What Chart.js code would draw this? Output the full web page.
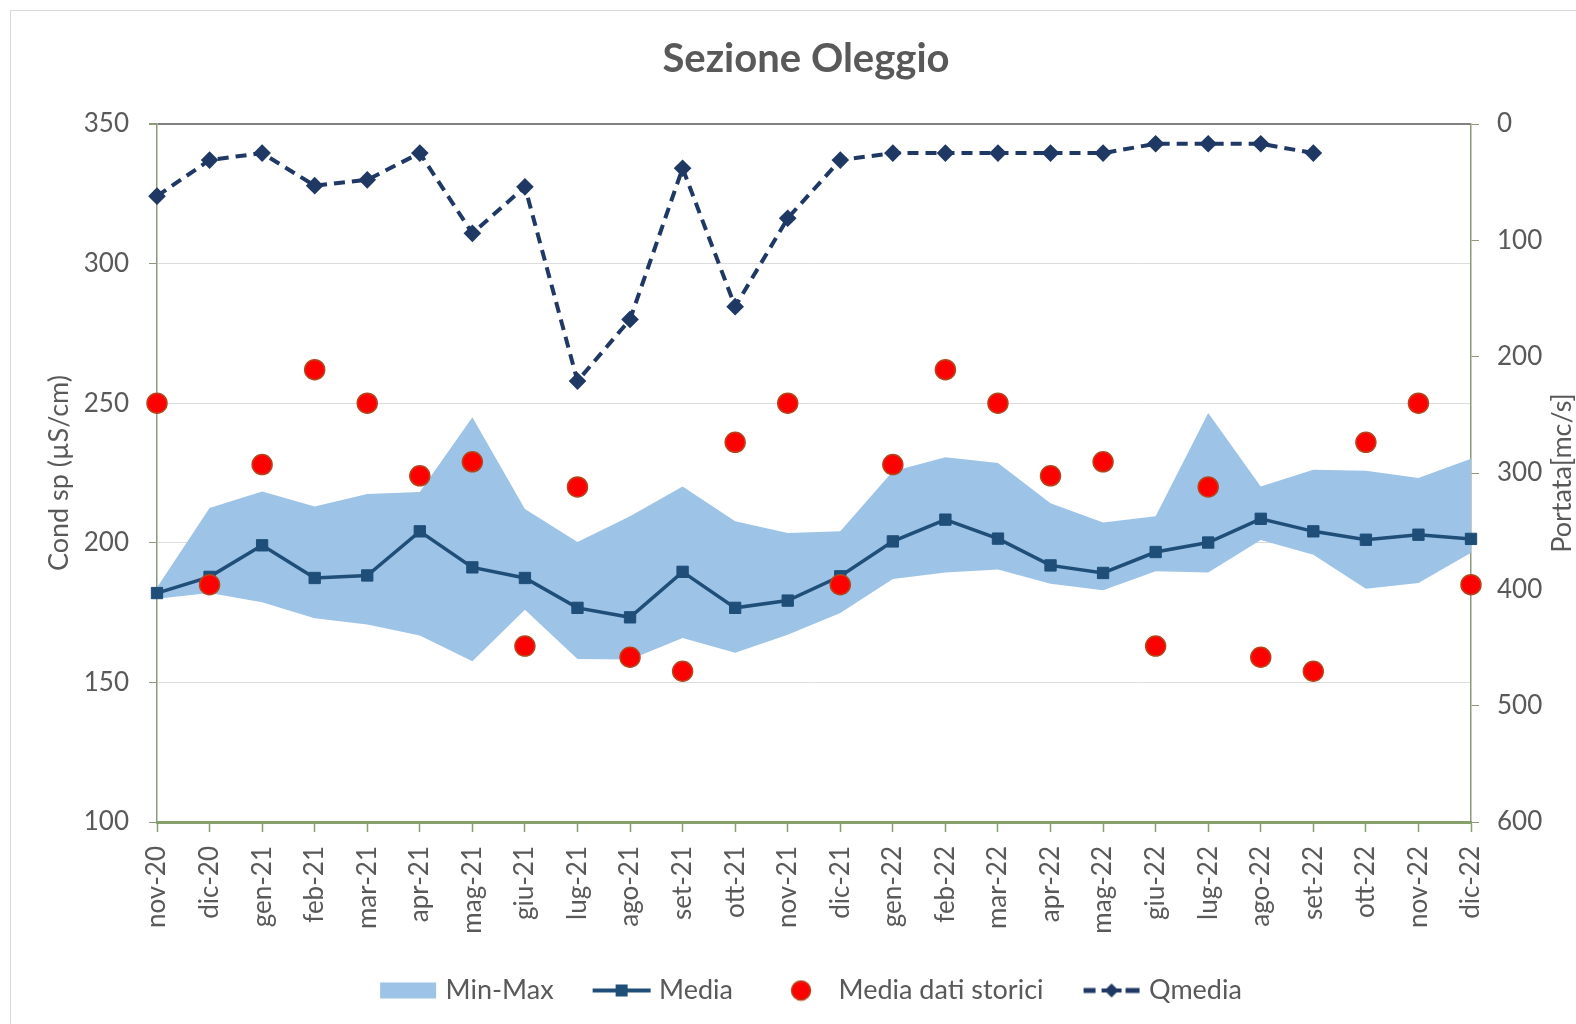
<!DOCTYPE html>
<html>
<head>
<meta charset="utf-8">
<script src="https://cdn.jsdelivr.net/npm/chart.js@4.4.1/dist/chart.umd.min.js"></script>
<style>
  body { margin: 0; background: #fff; }
  #wrap { position: relative; width: 1576px; height: 1024px; overflow: hidden; }
  #frame { position: absolute; left: 10px; top: 10px; width: 1600px; height: 1100px; border: 1px solid #d9d9d9; }
  canvas { position: absolute; left: 0; top: 0; }
</style>
</head>
<body>
<div id="wrap">
  <div id="frame"></div>
  <canvas id="chart" width="1576" height="1024"></canvas>
</div>
<script>
const months = ["nov-20", "dic-20", "gen-21", "feb-21", "mar-21", "apr-21", "mag-21", "giu-21", "lug-21", "ago-21", "set-21", "ott-21", "nov-21",
  "dic-21", "gen-22", "feb-22", "mar-22", "apr-22", "mag-22", "giu-22", "lug-22", "ago-22", "set-22", "ott-22", "nov-22", "dic-22"];

// conductivity (left axis)
const minVals = [180, 182, 178.7, 173, 170.7, 166.8, 157.6, 176, 158.4, 158.2, 165.9, 160.6, 167.1,
  174.9, 187, 189.4, 190.4, 185.3, 183, 189.8, 189.4, 201, 195.7, 183.5, 185.6, 196.4];
const maxVals = [184, 212.5, 218.4, 213, 217.5, 218.2, 245, 212.1, 200.3, 209.5, 220.2, 207.7, 203.5,
  204.1, 225.6, 230.6, 228.6, 214.2, 207.3, 209.5, 246.5, 220.2, 226.2, 225.8, 223.2, 230.1];
const mediaVals = [182, 187.8, 199.1, 187.4, 188.3, 204.1, 191.2, 187.4, 176.7, 173.3, 189.6, 176.7, 179.3,
  188, 200.5, 208.3, 201.5, 191.9, 189.2, 196.7, 200.1, 208.6, 204.1, 201.1, 202.9, 201.4];
const storiciVals = [250, 185, 228, 262, 250, 224, 229, 163, 220, 159, 154, 236, 250,
  185, 228, 262, 250, 224, 229, 163, 220, 159, 154, 236, 250, 185];

// discharge (right axis, reversed)
const qmediaVals = [62, 31, 25, 53, 48, 25, 94, 54, 221, 168, 38, 157, 81,
  31, 25, 25, 25, 25, 25, 17, 17, 17, 25, null, null, null];

const FONT = "Lato";
const TXT = "#595959";
const BAND = "#9dc3e6";
const MEDIA = "#1f4e79";
const QCOL = "#1f3864";
const RED = "#ff0000";
const AXIS_GREEN = "#86a06c";
const AXIS_GREY = "#8c9a7e";

Chart.defaults.font.family = FONT;

// little canvases used as legend symbols (14px empty on the left = spacing)
function symbol(draw) {
  const c = document.createElement("canvas");
  c.width = 74;
  c.height = 22;
  const g = c.getContext("2d");
  g.translate(14, 0);
  draw(g);
  return c;
}

const legendSymbols = {
  1: symbol((g) => {
    g.fillStyle = BAND;
    g.fillRect(2, 3, 56, 16);
  }),
  2: symbol((g) => {
    g.strokeStyle = MEDIA;
    g.lineWidth = 4;
    g.beginPath();
    g.moveTo(1, 11);
    g.lineTo(59, 11);
    g.stroke();
    g.fillStyle = MEDIA;
    g.fillRect(24, 5, 12, 12);
  }),
  3: symbol((g) => {
    g.fillStyle = RED;
    g.strokeStyle = "#b5451b";
    g.lineWidth = 1.5;
    g.beginPath();
    g.arc(30, 11, 9.5, 0, Math.PI * 2);
    g.fill();
    g.stroke();
  }),
  4: symbol((g) => {
    g.strokeStyle = QCOL;
    g.lineWidth = 5;
    g.beginPath();
    g.moveTo(2, 11); g.lineTo(14, 11);
    g.moveTo(44, 11); g.lineTo(58, 11);
    g.stroke();
    g.fillStyle = QCOL;
    g.beginPath();
    g.moveTo(30, 4); g.lineTo(37, 11); g.lineTo(30, 18); g.lineTo(23, 11);
    g.closePath();
    g.fill();
    g.fillRect(20, 9, 20, 4);
  }),
};

// right axis title reads bottom-to-top like the left one
const rightTitle = {
  id: "rightTitle",
  afterDraw(chart) {
    const { ctx, chartArea, scales } = chart;
    ctx.save();
    ctx.translate(scales.y1.right - 14, (chartArea.top + chartArea.bottom) / 2);
    ctx.rotate(-Math.PI / 2);
    ctx.font = "27px " + FONT;
    ctx.fillStyle = TXT;
    ctx.textAlign = "center";
    ctx.textBaseline = "middle";
    ctx.fillText("Portata[mc/s]", 0, 0);
    ctx.restore();
  },
};

new Chart(document.getElementById("chart"), {
  type: "line",
  data: {
    labels: months,
    datasets: [
      {
        label: "Min",
        data: minVals,
        yAxisID: "y",
        borderColor: "rgba(0,0,0,0)",
        pointRadius: 0,
        fill: false,
        order: 5,
      },
      {
        label: "Min-Max",
        data: maxVals,
        yAxisID: "y",
        borderColor: "rgba(0,0,0,0)",
        backgroundColor: BAND,
        pointRadius: 0,
        fill: "-1",
        order: 4,
      },
      {
        label: "Media",
        data: mediaVals,
        yAxisID: "y",
        borderColor: MEDIA,
        backgroundColor: MEDIA,
        borderWidth: 3.5,
        pointStyle: "rect",
        pointRadius: 8,
        pointBorderWidth: 1,
        pointBackgroundColor: MEDIA,
        pointBorderColor: MEDIA,
        order: 3,
      },
      {
        label: "Media dati storici",
        data: storiciVals,
        yAxisID: "y",
        showLine: false,
        pointRadius: 10,
        pointBackgroundColor: RED,
        pointBorderColor: "#b5451b",
        pointBorderWidth: 1.5,
        order: 2,
      },
      {
        label: "Qmedia",
        data: qmediaVals,
        yAxisID: "y1",
        borderColor: QCOL,
        backgroundColor: QCOL,
        borderWidth: 4,
        borderDash: [11, 7],
        pointStyle: "rectRot",
        pointRadius: 6,
        pointBackgroundColor: QCOL,
        pointBorderColor: QCOL,
        spanGaps: false,
        order: 1,
      },
    ],
  },
  options: {
    responsive: false,
    animation: false,
    events: [],
    layout: { padding: { left: 36, right: 0, top: 0, bottom: 10 } },
    plugins: {
      tooltip: { enabled: false },
      title: {
        display: true,
        text: "Sezione Oleggio",
        color: TXT,
        font: { family: FONT, size: 40, weight: "bold" },
        padding: { top: 35, bottom: 41 },
      },
      legend: {
        position: "bottom",
        labels: {
          usePointStyle: true,
          pointStyleWidth: 62,
          padding: 30,
          color: TXT,
          font: { family: FONT, size: 27 },
          sort: (a, b) => a.datasetIndex - b.datasetIndex,
          generateLabels: (chart) =>
            Chart.defaults.plugins.legend.labels
              .generateLabels(chart)
              .filter((i) => i.datasetIndex > 0)
              .map((i) => ({ ...i, pointStyle: legendSymbols[i.datasetIndex] })),
        },
      },
    },
    scales: {
      x: {
        offset: false,
        grid: { display: true, drawOnChartArea: false, drawTicks: true, tickLength: 10, tickColor: AXIS_GREEN, tickWidth: 1.5 },
        border: { display: true, color: AXIS_GREEN, width: 3 },
        ticks: { autoSkip: false, minRotation: 90, maxRotation: 90, padding: 14, color: TXT, font: { size: 26 } },
        afterFit: (s) => { s.height = 125; },
      },
      y: {
        position: "left",
        min: 100,
        max: 350,
        ticks: { stepSize: 50, padding: 20, color: TXT, font: { size: 26 } },
        grid: {
          color: (c) => (c.tick.value === 350 ? "#808080" : c.tick.value === 100 ? "rgba(0,0,0,0)" : "#dcdcdc"),
          lineWidth: (c) => (c.tick.value === 350 ? 2 : 1),
          tickLength: 8,
          tickColor: AXIS_GREY,
        },
        border: { color: AXIS_GREY, width: 1.5 },
        title: {
          display: true,
          text: "Cond sp (µS/cm)",
          color: TXT,
          font: { size: 27 },
          padding: { top: 7, bottom: 0 },
        },
        afterFit: (s) => { s.width = 121; },
      },
      y1: {
        position: "right",
        min: 0,
        max: 600,
        reverse: true,
        ticks: { stepSize: 100, padding: 18, color: TXT, font: { size: 26 } },
        grid: { drawOnChartArea: false, tickLength: 8, tickColor: AXIS_GREY },
        border: { color: AXIS_GREY, width: 1.5 },
        afterFit: (s) => { s.width = 105; },
      },
    },
  },
  plugins: [rightTitle],
});
</script>
</body>
</html>
